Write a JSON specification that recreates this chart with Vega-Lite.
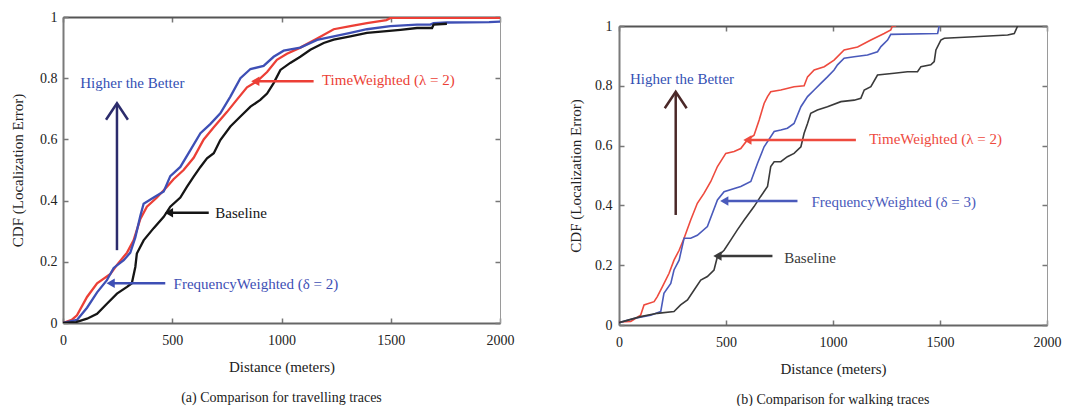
{
  "$schema": "https://vega.github.io/schema/vega-lite/v6.json",
  "background": "white",
  "padding": {"left": 10, "top": 9, "right": 4, "bottom": 0},
  "spacing": 53,
  "config": {
    "font": "'Liberation Serif', 'Times New Roman', serif",
    "view": {"stroke": "#9a9a9a", "strokeWidth": 1},
    "axis": {"labelFont": "'Liberation Serif', 'Times New Roman', serif", "titleFont": "'Liberation Serif', 'Times New Roman', serif", "labelFontSize": 14, "titleFontSize": 15, "titleFontWeight": "normal", "labelColor": "#222", "titleColor": "#222", "grid": false, "domainColor": "#666", "domainWidth": 2, "tickColor": "#777", "tickSize": -5, "tickWidth": 1.5},
    "title": {"font": "'Liberation Serif', 'Times New Roman', serif", "fontSize": 14, "fontWeight": "normal", "color": "#222"}
  },
  "resolve": {"scale": {"color": "independent"}},
  "datasets": {
    "travel": [
      {"series": "TimeWeighted", "x": 0, "y": 0}, {"series": "TimeWeighted", "x": 40, "y": 0.01}, {"series": "TimeWeighted", "x": 64, "y": 0.025}, {"series": "TimeWeighted", "x": 110, "y": 0.085}, {"series": "TimeWeighted", "x": 156, "y": 0.13}, {"series": "TimeWeighted", "x": 217, "y": 0.16}, {"series": "TimeWeighted", "x": 247, "y": 0.19}, {"series": "TimeWeighted", "x": 293, "y": 0.23}, {"series": "TimeWeighted", "x": 323, "y": 0.27}, {"series": "TimeWeighted", "x": 354, "y": 0.34}, {"series": "TimeWeighted", "x": 384, "y": 0.38}, {"series": "TimeWeighted", "x": 430, "y": 0.41}, {"series": "TimeWeighted", "x": 476, "y": 0.445}, {"series": "TimeWeighted", "x": 506, "y": 0.47}, {"series": "TimeWeighted", "x": 552, "y": 0.5}, {"series": "TimeWeighted", "x": 598, "y": 0.54}, {"series": "TimeWeighted", "x": 644, "y": 0.6}, {"series": "TimeWeighted", "x": 690, "y": 0.64}, {"series": "TimeWeighted", "x": 751, "y": 0.69}, {"series": "TimeWeighted", "x": 796, "y": 0.73}, {"series": "TimeWeighted", "x": 842, "y": 0.77}, {"series": "TimeWeighted", "x": 888, "y": 0.79}, {"series": "TimeWeighted", "x": 934, "y": 0.82}, {"series": "TimeWeighted", "x": 979, "y": 0.86}, {"series": "TimeWeighted", "x": 1025, "y": 0.88}, {"series": "TimeWeighted", "x": 1086, "y": 0.9}, {"series": "TimeWeighted", "x": 1163, "y": 0.93}, {"series": "TimeWeighted", "x": 1239, "y": 0.96}, {"series": "TimeWeighted", "x": 1315, "y": 0.97}, {"series": "TimeWeighted", "x": 1391, "y": 0.98}, {"series": "TimeWeighted", "x": 1480, "y": 0.99}, {"series": "TimeWeighted", "x": 1500, "y": 0.997}, {"series": "TimeWeighted", "x": 2000, "y": 0.997},
      {"series": "FrequencyWeighted", "x": 0, "y": 0}, {"series": "FrequencyWeighted", "x": 64, "y": 0.01}, {"series": "FrequencyWeighted", "x": 110, "y": 0.05}, {"series": "FrequencyWeighted", "x": 156, "y": 0.1}, {"series": "FrequencyWeighted", "x": 201, "y": 0.14}, {"series": "FrequencyWeighted", "x": 232, "y": 0.18}, {"series": "FrequencyWeighted", "x": 278, "y": 0.205}, {"series": "FrequencyWeighted", "x": 308, "y": 0.23}, {"series": "FrequencyWeighted", "x": 331, "y": 0.28}, {"series": "FrequencyWeighted", "x": 354, "y": 0.35}, {"series": "FrequencyWeighted", "x": 369, "y": 0.39}, {"series": "FrequencyWeighted", "x": 415, "y": 0.41}, {"series": "FrequencyWeighted", "x": 461, "y": 0.43}, {"series": "FrequencyWeighted", "x": 491, "y": 0.48}, {"series": "FrequencyWeighted", "x": 537, "y": 0.51}, {"series": "FrequencyWeighted", "x": 583, "y": 0.565}, {"series": "FrequencyWeighted", "x": 629, "y": 0.62}, {"series": "FrequencyWeighted", "x": 674, "y": 0.65}, {"series": "FrequencyWeighted", "x": 720, "y": 0.685}, {"series": "FrequencyWeighted", "x": 766, "y": 0.74}, {"series": "FrequencyWeighted", "x": 812, "y": 0.8}, {"series": "FrequencyWeighted", "x": 858, "y": 0.83}, {"series": "FrequencyWeighted", "x": 918, "y": 0.84}, {"series": "FrequencyWeighted", "x": 964, "y": 0.87}, {"series": "FrequencyWeighted", "x": 1010, "y": 0.89}, {"series": "FrequencyWeighted", "x": 1086, "y": 0.9}, {"series": "FrequencyWeighted", "x": 1163, "y": 0.925}, {"series": "FrequencyWeighted", "x": 1239, "y": 0.937}, {"series": "FrequencyWeighted", "x": 1315, "y": 0.948}, {"series": "FrequencyWeighted", "x": 1391, "y": 0.96}, {"series": "FrequencyWeighted", "x": 1498, "y": 0.97}, {"series": "FrequencyWeighted", "x": 1620, "y": 0.975}, {"series": "FrequencyWeighted", "x": 1681, "y": 0.975}, {"series": "FrequencyWeighted", "x": 1696, "y": 0.98}, {"series": "FrequencyWeighted", "x": 1757, "y": 0.982}, {"series": "FrequencyWeighted", "x": 1950, "y": 0.983}, {"series": "FrequencyWeighted", "x": 2000, "y": 0.985},
      {"series": "Baseline", "x": 0, "y": 0}, {"series": "Baseline", "x": 60, "y": 0.003}, {"series": "Baseline", "x": 110, "y": 0.014}, {"series": "Baseline", "x": 156, "y": 0.03}, {"series": "Baseline", "x": 201, "y": 0.063}, {"series": "Baseline", "x": 247, "y": 0.096}, {"series": "Baseline", "x": 293, "y": 0.118}, {"series": "Baseline", "x": 315, "y": 0.13}, {"series": "Baseline", "x": 331, "y": 0.183}, {"series": "Baseline", "x": 338, "y": 0.227}, {"series": "Baseline", "x": 369, "y": 0.27}, {"series": "Baseline", "x": 415, "y": 0.31}, {"series": "Baseline", "x": 461, "y": 0.347}, {"series": "Baseline", "x": 491, "y": 0.38}, {"series": "Baseline", "x": 537, "y": 0.41}, {"series": "Baseline", "x": 567, "y": 0.445}, {"series": "Baseline", "x": 598, "y": 0.478}, {"series": "Baseline", "x": 629, "y": 0.51}, {"series": "Baseline", "x": 659, "y": 0.538}, {"series": "Baseline", "x": 690, "y": 0.555}, {"series": "Baseline", "x": 720, "y": 0.598}, {"series": "Baseline", "x": 766, "y": 0.642}, {"series": "Baseline", "x": 812, "y": 0.675}, {"series": "Baseline", "x": 858, "y": 0.707}, {"series": "Baseline", "x": 903, "y": 0.729}, {"series": "Baseline", "x": 934, "y": 0.75}, {"series": "Baseline", "x": 964, "y": 0.784}, {"series": "Baseline", "x": 995, "y": 0.827}, {"series": "Baseline", "x": 1040, "y": 0.85}, {"series": "Baseline", "x": 1086, "y": 0.87}, {"series": "Baseline", "x": 1132, "y": 0.893}, {"series": "Baseline", "x": 1193, "y": 0.915}, {"series": "Baseline", "x": 1239, "y": 0.926}, {"series": "Baseline", "x": 1315, "y": 0.937}, {"series": "Baseline", "x": 1391, "y": 0.948}, {"series": "Baseline", "x": 1468, "y": 0.953}, {"series": "Baseline", "x": 1544, "y": 0.958}, {"series": "Baseline", "x": 1620, "y": 0.964}, {"series": "Baseline", "x": 1689, "y": 0.964}, {"series": "Baseline", "x": 1696, "y": 0.975}, {"series": "Baseline", "x": 1757, "y": 0.978}
    ],
    "walk": [
      {"series": "TimeWeighted", "x": 0, "y": 0.01}, {"series": "TimeWeighted", "x": 55, "y": 0.012}, {"series": "TimeWeighted", "x": 101, "y": 0.033}, {"series": "TimeWeighted", "x": 117, "y": 0.067}, {"series": "TimeWeighted", "x": 164, "y": 0.078}, {"series": "TimeWeighted", "x": 179, "y": 0.095}, {"series": "TimeWeighted", "x": 203, "y": 0.128}, {"series": "TimeWeighted", "x": 234, "y": 0.173}, {"series": "TimeWeighted", "x": 257, "y": 0.217}, {"series": "TimeWeighted", "x": 281, "y": 0.25}, {"series": "TimeWeighted", "x": 304, "y": 0.29}, {"series": "TimeWeighted", "x": 335, "y": 0.351}, {"series": "TimeWeighted", "x": 366, "y": 0.407}, {"series": "TimeWeighted", "x": 397, "y": 0.44}, {"series": "TimeWeighted", "x": 429, "y": 0.48}, {"series": "TimeWeighted", "x": 460, "y": 0.53}, {"series": "TimeWeighted", "x": 499, "y": 0.574}, {"series": "TimeWeighted", "x": 538, "y": 0.58}, {"series": "TimeWeighted", "x": 569, "y": 0.59}, {"series": "TimeWeighted", "x": 600, "y": 0.619}, {"series": "TimeWeighted", "x": 631, "y": 0.635}, {"series": "TimeWeighted", "x": 655, "y": 0.686}, {"series": "TimeWeighted", "x": 678, "y": 0.741}, {"series": "TimeWeighted", "x": 694, "y": 0.764}, {"series": "TimeWeighted", "x": 709, "y": 0.78}, {"series": "TimeWeighted", "x": 756, "y": 0.786}, {"series": "TimeWeighted", "x": 818, "y": 0.797}, {"series": "TimeWeighted", "x": 865, "y": 0.8}, {"series": "TimeWeighted", "x": 881, "y": 0.83}, {"series": "TimeWeighted", "x": 912, "y": 0.853}, {"series": "TimeWeighted", "x": 959, "y": 0.864}, {"series": "TimeWeighted", "x": 1005, "y": 0.886}, {"series": "TimeWeighted", "x": 1052, "y": 0.92}, {"series": "TimeWeighted", "x": 1115, "y": 0.93}, {"series": "TimeWeighted", "x": 1177, "y": 0.953}, {"series": "TimeWeighted", "x": 1239, "y": 0.975}, {"series": "TimeWeighted", "x": 1270, "y": 0.987}, {"series": "TimeWeighted", "x": 1278, "y": 1.0}, {"series": "TimeWeighted", "x": 1295, "y": 1.0},
      {"series": "FrequencyWeighted", "x": 0, "y": 0.008}, {"series": "FrequencyWeighted", "x": 70, "y": 0.022}, {"series": "FrequencyWeighted", "x": 148, "y": 0.033}, {"series": "FrequencyWeighted", "x": 195, "y": 0.045}, {"series": "FrequencyWeighted", "x": 210, "y": 0.106}, {"series": "FrequencyWeighted", "x": 242, "y": 0.139}, {"series": "FrequencyWeighted", "x": 257, "y": 0.184}, {"series": "FrequencyWeighted", "x": 281, "y": 0.217}, {"series": "FrequencyWeighted", "x": 304, "y": 0.29}, {"series": "FrequencyWeighted", "x": 335, "y": 0.29}, {"series": "FrequencyWeighted", "x": 366, "y": 0.3}, {"series": "FrequencyWeighted", "x": 413, "y": 0.329}, {"series": "FrequencyWeighted", "x": 460, "y": 0.418}, {"series": "FrequencyWeighted", "x": 491, "y": 0.446}, {"series": "FrequencyWeighted", "x": 569, "y": 0.463}, {"series": "FrequencyWeighted", "x": 616, "y": 0.48}, {"series": "FrequencyWeighted", "x": 647, "y": 0.54}, {"series": "FrequencyWeighted", "x": 678, "y": 0.596}, {"series": "FrequencyWeighted", "x": 725, "y": 0.647}, {"series": "FrequencyWeighted", "x": 756, "y": 0.652}, {"series": "FrequencyWeighted", "x": 787, "y": 0.658}, {"series": "FrequencyWeighted", "x": 818, "y": 0.674}, {"series": "FrequencyWeighted", "x": 850, "y": 0.73}, {"series": "FrequencyWeighted", "x": 881, "y": 0.764}, {"series": "FrequencyWeighted", "x": 912, "y": 0.786}, {"series": "FrequencyWeighted", "x": 943, "y": 0.808}, {"series": "FrequencyWeighted", "x": 974, "y": 0.83}, {"series": "FrequencyWeighted", "x": 1005, "y": 0.853}, {"series": "FrequencyWeighted", "x": 1021, "y": 0.87}, {"series": "FrequencyWeighted", "x": 1052, "y": 0.892}, {"series": "FrequencyWeighted", "x": 1099, "y": 0.897}, {"series": "FrequencyWeighted", "x": 1161, "y": 0.903}, {"series": "FrequencyWeighted", "x": 1208, "y": 0.914}, {"series": "FrequencyWeighted", "x": 1224, "y": 0.931}, {"series": "FrequencyWeighted", "x": 1255, "y": 0.953}, {"series": "FrequencyWeighted", "x": 1270, "y": 0.972}, {"series": "FrequencyWeighted", "x": 1489, "y": 0.975}, {"series": "FrequencyWeighted", "x": 1496, "y": 1.0},
      {"series": "Baseline", "x": 0, "y": 0.008}, {"series": "Baseline", "x": 101, "y": 0.028}, {"series": "Baseline", "x": 179, "y": 0.039}, {"series": "Baseline", "x": 257, "y": 0.045}, {"series": "Baseline", "x": 288, "y": 0.067}, {"series": "Baseline", "x": 320, "y": 0.084}, {"series": "Baseline", "x": 351, "y": 0.117}, {"series": "Baseline", "x": 382, "y": 0.15}, {"series": "Baseline", "x": 413, "y": 0.162}, {"series": "Baseline", "x": 444, "y": 0.184}, {"series": "Baseline", "x": 460, "y": 0.229}, {"series": "Baseline", "x": 491, "y": 0.25}, {"series": "Baseline", "x": 522, "y": 0.284}, {"series": "Baseline", "x": 553, "y": 0.318}, {"series": "Baseline", "x": 585, "y": 0.351}, {"series": "Baseline", "x": 631, "y": 0.396}, {"series": "Baseline", "x": 662, "y": 0.43}, {"series": "Baseline", "x": 694, "y": 0.463}, {"series": "Baseline", "x": 709, "y": 0.53}, {"series": "Baseline", "x": 725, "y": 0.546}, {"series": "Baseline", "x": 756, "y": 0.546}, {"series": "Baseline", "x": 787, "y": 0.563}, {"series": "Baseline", "x": 818, "y": 0.574}, {"series": "Baseline", "x": 850, "y": 0.596}, {"series": "Baseline", "x": 865, "y": 0.641}, {"series": "Baseline", "x": 881, "y": 0.674}, {"series": "Baseline", "x": 896, "y": 0.708}, {"series": "Baseline", "x": 927, "y": 0.719}, {"series": "Baseline", "x": 974, "y": 0.73}, {"series": "Baseline", "x": 1037, "y": 0.747}, {"series": "Baseline", "x": 1099, "y": 0.752}, {"series": "Baseline", "x": 1130, "y": 0.758}, {"series": "Baseline", "x": 1146, "y": 0.786}, {"series": "Baseline", "x": 1177, "y": 0.797}, {"series": "Baseline", "x": 1208, "y": 0.836}, {"series": "Baseline", "x": 1286, "y": 0.842}, {"series": "Baseline", "x": 1348, "y": 0.847}, {"series": "Baseline", "x": 1395, "y": 0.847}, {"series": "Baseline", "x": 1411, "y": 0.864}, {"series": "Baseline", "x": 1457, "y": 0.87}, {"series": "Baseline", "x": 1473, "y": 0.881}, {"series": "Baseline", "x": 1481, "y": 0.92}, {"series": "Baseline", "x": 1504, "y": 0.953}, {"series": "Baseline", "x": 1520, "y": 0.959}, {"series": "Baseline", "x": 1660, "y": 0.964}, {"series": "Baseline", "x": 1816, "y": 0.97}, {"series": "Baseline", "x": 1847, "y": 0.975}, {"series": "Baseline", "x": 1863, "y": 1.0}
    ],
    "travel_arrows": [
      {"series": "Hint", "x": 247, "x2": 247, "y": 0.238, "y2": 0.715},
      {"series": "TimeWeighted", "x": 1147, "x2": 880, "y": 0.79, "y2": 0.79},
      {"series": "Baseline", "x": 667, "x2": 485, "y": 0.36, "y2": 0.36},
      {"series": "FrequencyWeighted", "x": 468, "x2": 218, "y": 0.13, "y2": 0.13}
    ],
    "travel_heads": [
      {"series": "TimeWeighted", "x": 880, "y": 0.79},
      {"series": "Baseline", "x": 485, "y": 0.36},
      {"series": "FrequencyWeighted", "x": 218, "y": 0.13}
    ],
    "travel_chevron": [{"series": "Hint", "x": 247, "y": 0.718}],
    "travel_text": [
      {"series": "HintText", "label": "Higher the Better", "x": 79, "y": 0.784},
      {"series": "TimeWeighted", "label": "TimeWeighted (λ = 2)", "x": 1185, "y": 0.793},
      {"series": "Baseline", "label": "Baseline", "x": 697, "y": 0.361},
      {"series": "FrequencyWeighted", "label": "FrequencyWeighted (δ = 2)", "x": 506, "y": 0.129}
    ],
    "walk_arrows": [
      {"series": "Hint", "x": 265, "x2": 265, "y": 0.368, "y2": 0.775},
      {"series": "TimeWeighted", "x": 1107, "x2": 600, "y": 0.619, "y2": 0.619},
      {"series": "FrequencyWeighted", "x": 834, "x2": 492, "y": 0.415, "y2": 0.415},
      {"series": "Baseline", "x": 717, "x2": 460, "y": 0.231, "y2": 0.231}
    ],
    "walk_heads": [
      {"series": "TimeWeighted", "x": 600, "y": 0.619},
      {"series": "FrequencyWeighted", "x": 492, "y": 0.415},
      {"series": "Baseline", "x": 460, "y": 0.231}
    ],
    "walk_chevron": [{"series": "Hint", "x": 265, "y": 0.78}],
    "walk_text": [
      {"series": "HintText", "label": "Higher the Better", "x": 51, "y": 0.823},
      {"series": "TimeWeighted", "label": "TimeWeighted (λ = 2)", "x": 1169, "y": 0.621},
      {"series": "FrequencyWeighted", "label": "FrequencyWeighted (δ = 3)", "x": 899, "y": 0.412},
      {"series": "Baseline", "label": "Baseline", "x": 772, "y": 0.223}
    ],
    "spacer": [{"v": 0}]
  },
  "hconcat": [
    {
      "width": 437,
      "height": 306,
      "title": {"text": "(a) Comparison for travelling traces", "orient": "bottom", "offset": 17},
      "resolve": {"axis": {"x": "independent", "y": "independent"}},
      "layer": [
        {
          "data": {"name": "travel"},
          "mark": {"type": "line", "strokeWidth": 2.3, "clip": true},
          "encoding": {
            "x": {"field": "x", "type": "quantitative", "scale": {"domain": [0, 2000]}, "axis": {"values": [0, 500, 1000, 1500, 2000], "format": "d", "labelFlush": false, "labelPadding": 15, "titlePadding": 12, "labelFont": "'Liberation Serif', 'Times New Roman', serif", "titleFont": "'Liberation Serif', 'Times New Roman', serif", "titleFontWeight": "normal", "titleFontSize": 15, "labelFontSize": 14}, "title": "Distance (meters)"},
            "y": {"field": "y", "type": "quantitative", "scale": {"domain": [0, 1]}, "axis": {"values": [0, 0.2, 0.4, 0.6, 0.8, 1], "format": "~g", "labelFlush": false, "labelPadding": 11, "titlePadding": 14, "domainWidth": 2, "domainColor": "#7a7a7a", "labelFont": "'Liberation Serif', 'Times New Roman', serif", "titleFont": "'Liberation Serif', 'Times New Roman', serif", "titleFontWeight": "normal", "titleFontSize": 15, "labelFontSize": 14}, "title": "CDF (Localization Error)"},
            "color": {"field": "series", "type": "nominal", "legend": null, "scale": {"domain": ["TimeWeighted", "FrequencyWeighted", "Baseline", "Hint", "HintText"], "range": ["#ec3f36", "#3e4fb5", "#151515", "#2c2c6c", "#3450b4"]}}
          }
        },
        {
          "data": {"name": "travel_arrows"},
          "mark": {"type": "rule", "strokeWidth": 2.5},
          "encoding": {
            "x": {"field": "x", "type": "quantitative", "axis": {"orient": "top", "values": [0, 500, 1000, 1500, 2000], "labels": false, "title": null, "domainColor": "#555"}},
            "x2": {"field": "x2"},
            "y": {"field": "y", "type": "quantitative", "axis": {"orient": "right", "values": [0, 0.2, 0.4, 0.6, 0.8, 1], "labels": false, "title": null, "domainWidth": 1, "domainColor": "#9a9a9a"}},
            "y2": {"field": "y2"},
            "color": {"field": "series", "type": "nominal", "legend": null}
          }
        },
        {
          "data": {"name": "travel_heads"},
          "mark": {"type": "point", "shape": "triangle-left", "filled": true, "size": 90, "opacity": 1},
          "encoding": {
            "x": {"field": "x", "type": "quantitative", "axis": null},
            "y": {"field": "y", "type": "quantitative", "axis": null},
            "color": {"field": "series", "type": "nominal", "legend": null}
          }
        },
        {
          "data": {"name": "travel_chevron"},
          "mark": {"type": "point", "shape": "M-1,1.5L0,0L1,1.5", "filled": false, "size": 480, "strokeWidth": 2.5, "opacity": 1},
          "encoding": {
            "x": {"field": "x", "type": "quantitative", "axis": null},
            "y": {"field": "y", "type": "quantitative", "axis": null},
            "color": {"field": "series", "type": "nominal", "legend": null}
          }
        },
        {
          "data": {"name": "travel_text"},
          "mark": {"type": "text", "align": "left", "baseline": "middle", "fontSize": 15, "font": "'Liberation Serif', 'Times New Roman', serif"},
          "encoding": {
            "x": {"field": "x", "type": "quantitative", "axis": null},
            "y": {"field": "y", "type": "quantitative", "axis": null},
            "text": {"field": "label"},
            "color": {"field": "series", "type": "nominal", "legend": null}
          }
        }
      ]
    },
    {
      "spacing": 0,
      "vconcat": [
        {
          "width": 428,
          "height": 1,
          "view": {"stroke": null},
          "data": {"name": "spacer"},
          "mark": {"type": "point", "size": 0, "opacity": 0},
          "encoding": {}
        },
        {
          "width": 428,
          "height": 299,
          "title": {"text": "(b) Comparison for walking traces", "orient": "bottom", "offset": 17},
          "resolve": {"axis": {"x": "independent", "y": "independent"}},
          "layer": [
            {
              "data": {"name": "walk"},
              "mark": {"type": "line", "strokeWidth": 1.6, "clip": true},
              "encoding": {
                "x": {"field": "x", "type": "quantitative", "scale": {"domain": [0, 2000]}, "axis": {"values": [0, 500, 1000, 1500, 2000], "format": "d", "labelFlush": false, "labelPadding": 15, "titlePadding": 12, "labelFont": "'Liberation Serif', 'Times New Roman', serif", "titleFont": "'Liberation Serif', 'Times New Roman', serif", "titleFontWeight": "normal", "titleFontSize": 15, "labelFontSize": 14}, "title": "Distance (meters)"},
                "y": {"field": "y", "type": "quantitative", "scale": {"domain": [0, 1]}, "axis": {"values": [0, 0.2, 0.4, 0.6, 0.8, 1], "format": "~g", "labelFlush": false, "labelPadding": 12, "titlePadding": 11, "domainWidth": 2, "domainColor": "#7a7a7a", "labelFont": "'Liberation Serif', 'Times New Roman', serif", "titleFont": "'Liberation Serif', 'Times New Roman', serif", "titleFontWeight": "normal", "titleFontSize": 15, "labelFontSize": 14}, "title": "CDF (Localization Error)"},
                "color": {"field": "series", "type": "nominal", "legend": null, "scale": {"domain": ["TimeWeighted", "FrequencyWeighted", "Baseline", "Hint", "HintText"], "range": ["#ee4a3e", "#4a5abb", "#3a3a3a", "#4a2828", "#3450b4"]}}
              }
            },
            {
              "data": {"name": "walk_arrows"},
              "mark": {"type": "rule", "strokeWidth": 2.5},
              "encoding": {
                "x": {"field": "x", "type": "quantitative", "axis": {"orient": "top", "values": [0, 500, 1000, 1500, 2000], "labels": false, "title": null, "domainColor": "#555"}},
                "x2": {"field": "x2"},
                "y": {"field": "y", "type": "quantitative", "axis": {"orient": "right", "values": [0, 0.2, 0.4, 0.6, 0.8, 1], "labels": false, "title": null, "domainWidth": 1, "domainColor": "#9a9a9a"}},
                "y2": {"field": "y2"},
                "color": {"field": "series", "type": "nominal", "legend": null}
              }
            },
            {
              "data": {"name": "walk_heads"},
              "mark": {"type": "point", "shape": "triangle-left", "filled": true, "size": 90, "opacity": 1},
              "encoding": {
                "x": {"field": "x", "type": "quantitative", "axis": null},
                "y": {"field": "y", "type": "quantitative", "axis": null},
                "color": {"field": "series", "type": "nominal", "legend": null}
              }
            },
            {
              "data": {"name": "walk_chevron"},
              "mark": {"type": "point", "shape": "M-1,1.5L0,0L1,1.5", "filled": false, "size": 480, "strokeWidth": 2.5, "opacity": 1},
              "encoding": {
                "x": {"field": "x", "type": "quantitative", "axis": null},
                "y": {"field": "y", "type": "quantitative", "axis": null},
                "color": {"field": "series", "type": "nominal", "legend": null}
              }
            },
            {
              "data": {"name": "walk_text"},
              "mark": {"type": "text", "align": "left", "baseline": "middle", "fontSize": 15, "font": "'Liberation Serif', 'Times New Roman', serif"},
              "encoding": {
                "x": {"field": "x", "type": "quantitative", "axis": null},
                "y": {"field": "y", "type": "quantitative", "axis": null},
                "text": {"field": "label"},
                "color": {"field": "series", "type": "nominal", "legend": null}
              }
            }
          ]
        }
      ]
    }
  ]
}
